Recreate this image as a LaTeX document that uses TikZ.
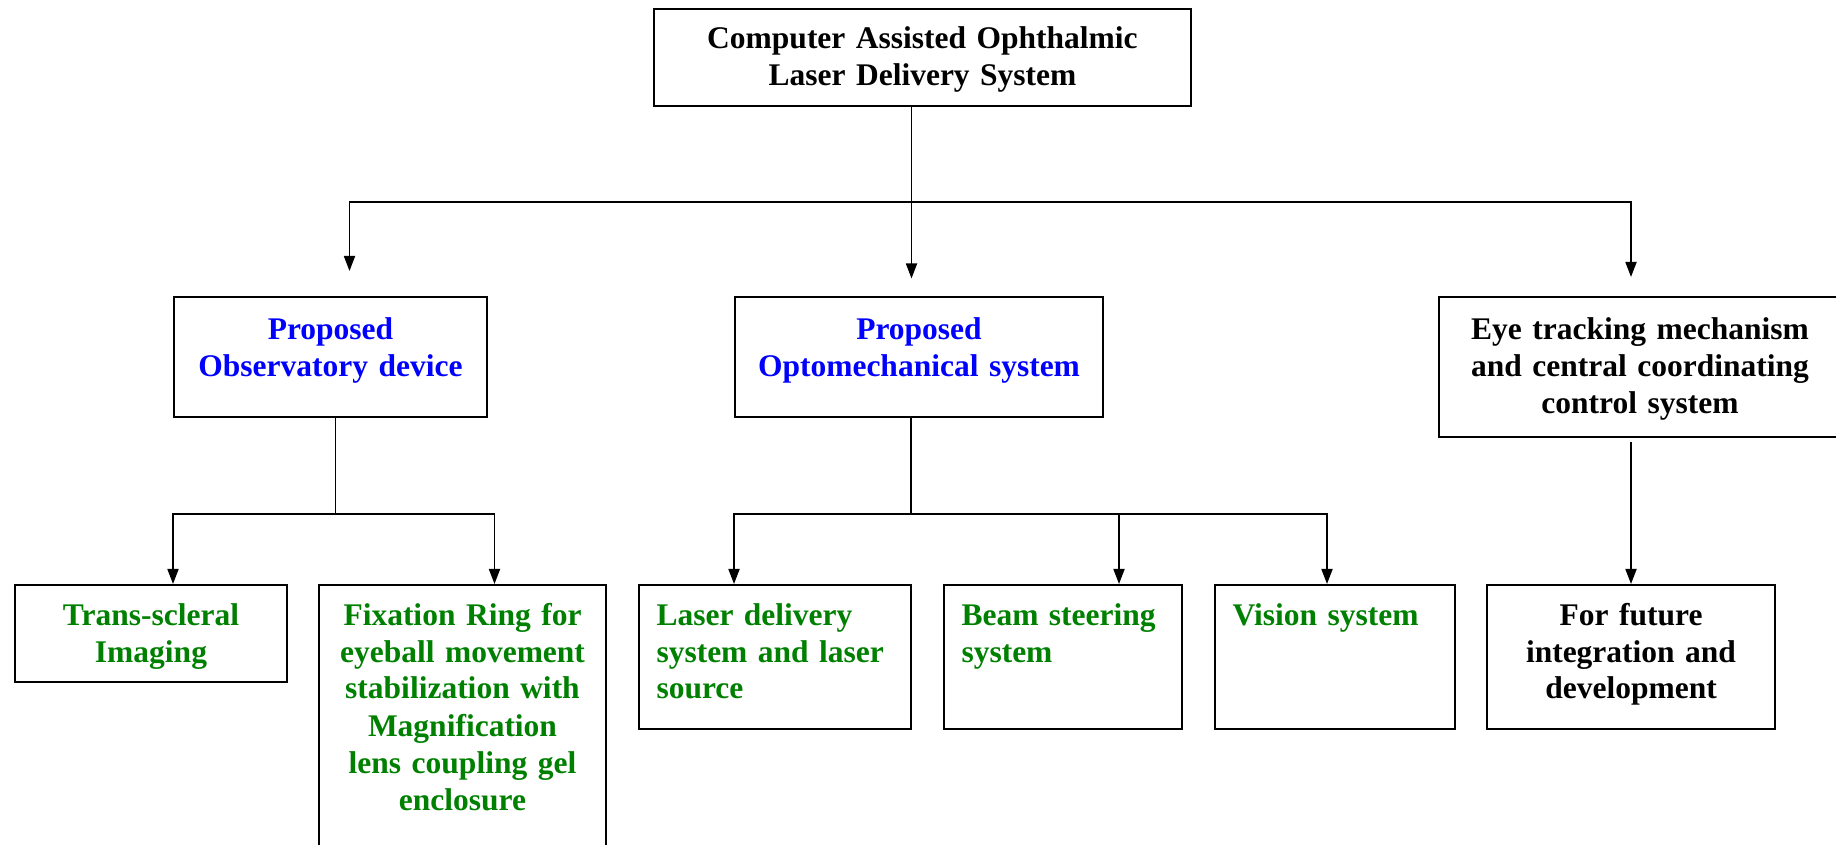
\documentclass[tikz,border=0pt]{standalone}
\usepackage{fontspec}
\setmainfont{Liberation Serif}
\usepackage{tikz}
\usetikzlibrary{arrows.meta,calc}
\definecolor{propblue}{RGB}{0,0,255}
\definecolor{subgreen}{RGB}{0,128,0}

\begin{document}
\begin{tikzpicture}[x=0.4pt,y=-0.4pt,
    blk/.style={draw,line width=0.8pt,anchor=north west,inner xsep=4pt,inner ysep=0pt,
      text height=16pt,align=center,font=\fontsize{12.6}{14.8}\selectfont\bfseries},
    mid/.style={blk,text height=17pt},
    lft/.style={blk,align=left,inner xsep=7pt},
    wire/.style={line width=0.7pt},
    arr/.style={wire,-{Triangle[length=6pt,width=4.4pt]}}]
    \useasboundingbox (0,0) rectangle (1836,845);
    \node[blk,text width=206.8pt,text depth=22.8pt] (top) at (653,8) {Computer Assisted Ophthalmic\\Laser Delivery System};
    %
    \node[mid,text width=117.2pt,text depth=31pt,text=propblue] (obs) at (173,296) {Proposed\\Observatory device};
    \node[mid,text width=139.2pt,text depth=31pt,text=propblue] (opto) at (734,296) {Proposed\\Optomechanical system};
    \node[mid,text width=152.8pt,text depth=39pt] (eye) at (1438,296) {Eye tracking mechanism\\and central coordinating\\control system};
    %
    \node[blk,text width=100.8pt,text depth=22.8pt,text=subgreen] (trans) at (14,584) {Trans-scleral\\Imaging};
    \node[blk,text width=106.8pt,text depth=102.4pt,text=subgreen] (fix) at (318,584) {Fixation Ring for\\eyeball movement\\stabilization with\\Magnification\\lens coupling gel\\enclosure};
    \node[lft,text width=94.8pt,text depth=41.6pt,text=subgreen] (laser) at (638,584) {Laser delivery\\system and laser\\source};
    \node[lft,text width=81.2pt,text depth=41.6pt,text=subgreen] (beam) at (943,584) {Beam steering\\system};
    \node[lft,text width=82pt,text depth=41.6pt,text=subgreen] (vis) at (1214,584) {Vision system};
    \node[blk,text width=107.2pt,text depth=41.6pt] (fut) at (1486,584) {For future\\integration and\\development};
    %
    \coordinate (hub) at ($(top.south)+(-11,95)$);
    \draw[wire] (top.south -| hub) -- (hub);
    \draw[arr,shorten >=10pt] (hub) -| ($(obs.north)+(19,0)$);
    \draw[arr,shorten >=7pt] (hub) -- (hub |- opto.north);
    \draw[arr,shorten >=7.6pt] (hub) -| (eye.north -| fut.north);
    %
    \coordinate (obshub) at ($(obs.south)+(5,96)$);
    \draw[wire] (obs.south -| obshub) -- (obshub);
    \draw[arr] (obshub) -| (trans.north -| obs.west);
    \draw[arr] (obshub) -| ($(fix.north)+(32,0)$);
    %
    \coordinate (optohub) at ($(opto.south)+(-8,96)$);
    \draw[wire] (opto.south -| optohub) -- (optohub);
    \draw[arr] (optohub) -| (laser.north -| opto.west);
    \draw[arr] (optohub) -| ($(beam.north)+(56,0)$);
    \draw[arr] (optohub) -| ($(vis.north)+(-8,0)$);
    %
    \draw[arr,shorten <=1.6pt] (eye.south -| fut.north) -- (fut.north);
\end{tikzpicture}
\end{document}
